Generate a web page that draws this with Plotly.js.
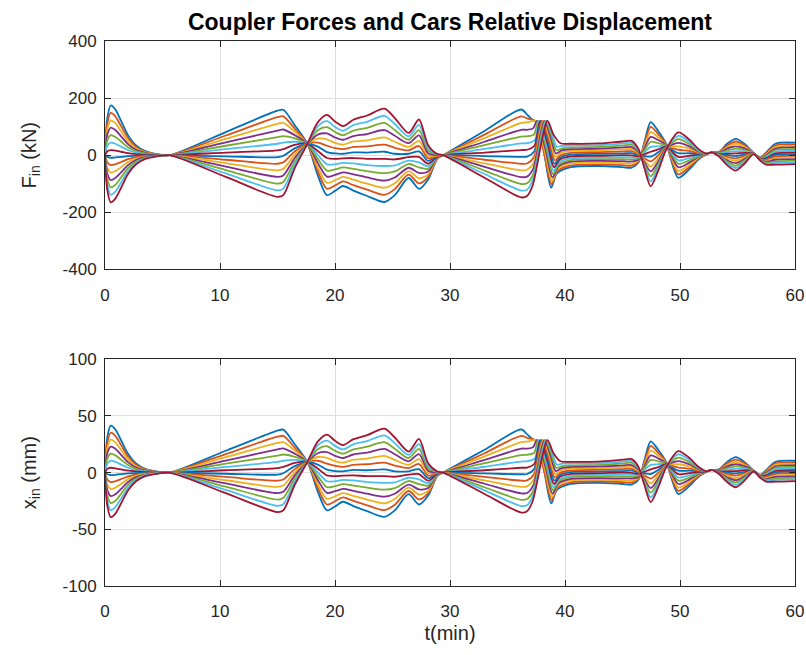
<!DOCTYPE html>
<html><head><meta charset="utf-8">
<script src="https://cdn.plot.ly/plotly-3.0.1.min.js"></script>
<style>html,body{margin:0;padding:0;background:#fff}#chart{width:806px;height:655px}</style>
</head><body><div id="chart"></div>
<script>
// time knots (min) shared by all couplers
const tStart = [0,0.2,0.5,0.9,1.4,2.0,2.7,3.5,4.5,5.6,10.5,15.0,15.5,16.5,17.6,18.5,19.3,20.0,20.7,21.6,22.8,24.3,25.2,26.4,27.3,28.1,28.9,29.4,33.0,36.2];
const tEnd = [40.5,43.0,45.0,45.8,46.4,46.9,47.45,48.1,48.8,49.85,50.8,51.6,52.3,52.75,53.4,54.1,54.85,55.6,56.4,57.0,57.5,58.3,60.0];
// per-coupler knots of the 37-40 min transient
const tMid = [
 [36.75,37.3,37.62,38.21,38.8,39.3],
 [36.75,37.39,38.17,38.84,39.34],
 [36.75,37.48,38.23,38.88,39.38],
 [36.7,37.22,37.57,38.3,38.92,39.42],
 [36.7,37.31,37.66,38.36,38.96,39.46],
 [36.7,37.37,37.75,38.43,39.0,39.5],
 [36.7,37.34,37.84,38.49,39.04,39.54],
 [36.7,37.32,37.93,38.56,39.08,39.58],
 [36.7,37.29,38.02,38.62,39.12,39.62],
 [36.7,37.27,38.11,38.69,39.16,39.66],
 [36.7,37.24,38.2,38.75,39.2,39.7],
 [36.7,37.22,38.29,38.82,39.24,39.74],
 [36.7,37.19,38.38,38.88,39.28,39.78],
 [36.7,37.17,38.47,39.0,39.6]
];
// coupler forces F_in (kN)
const Fin = [
 [0,130,174,160,120,70,34,14,4,0,81,156,159,105,40,-70,-140,-125,-108,-124,-143,-164,-140,-80,-118,-85,-12,0,85,160, 140,121,118,2,-114,-64, -42,-38,-42,-44,-25,45,116,85,40,-79,-50,-15,3,10,12,40,57,40,8,-8,10,40,44],
 [0,111,148,136,102,60,29,12,3,0,69,133,136,93,40,-56,-118,-106,-92,-105,-121,-139,-119,-68,-99,-76,-11,0,72,136, 128,120,9,-102,-56, -36,-32,-35,-37,-22,38,99,74,38,-67,-42,-12,3,10,11,34,48,35,8,-9,7,34,38],
 [0,91,122,112,84,49,24,10,3,0,57,110,113,82,40,-42,-97,-88,-76,-86,-100,-114,-98,-56,-81,-67,-10,0,60,113, 115,120,15,-90,-47, -29,-26,-28,-30,-18,31,81,63,37,-55,-34,-9,3,10,9,28,40,29,7,-10,3,29,32],
 [0,72,96,88,66,39,19,8,2,0,45,86,90,70,40,-27,-75,-69,-60,-67,-78,-89,-78,-44,-62,-57,-8,0,47,89, 89,94,120,21,-78,-40, -23,-20,-21,-22,-15,24,64,53,35,-42,-26,-6,3,10,8,23,31,24,7,-11,0,23,27],
 [0,52,70,64,48,28,14,6,2,0,33,63,67,59,40,-13,-54,-50,-43,-48,-56,-63,-57,-31,-43,-48,-7,0,35,65, 66,73,120,27,-66,-32, -17,-14,-14,-15,-11,17,47,42,34,-30,-18,-4,4,10,7,17,23,18,7,-12,-3,18,21],
 [0,33,44,40,30,18,9,4,1,0,21,40,44,47,40,1,-32,-32,-27,-29,-35,-38,-36,-19,-25,-39,-6,0,22,41, 42,53,120,33,-54,-24, -11,-8,-7,-8,-8,10,29,31,32,-18,-10,-1,4,10,5,11,14,13,7,-13,-7,12,15],
 [0,14,18,16,12,7,4,2,0,0,9,17,21,36,40,15,-10,-13,-11,-10,-13,-13,-15,-7,-6,-30,-5,0,9,18, 19,33,120,39,-42,-15, -4,-2,0,-1,-4,3,12,20,31,-6,-2,2,4,10,4,5,6,8,6,-14,-10,6,9],
 [0,-6,-9,-8,-6,-3,-2,-1,0,0,-4,-7,-2,24,40,30,11,6,5,10,9,12,5,5,13,-20,-3,0,-3,-6, -5,13,120,45,-30,-8, 2,5,6,7,-1,-3,-5,10,29,7,7,5,4,10,3,0,-3,2,6,-14,-13,1,4],
 [0,-25,-35,-32,-24,-14,-7,-3,-1,0,-16,-30,-25,13,40,44,33,25,21,29,31,37,26,17,32,-11,-2,0,-16,-30, -29,-7,120,51,-18,0, 8,11,13,14,3,-10,-22,-1,28,19,15,8,4,10,2,-6,-11,-3,6,-15,-16,-5,-2],
 [0,-44,-61,-56,-42,-24,-12,-5,-2,0,-28,-53,-48,1,40,58,55,43,37,48,52,62,47,29,50,-2,-1,0,-29,-53, -51,-27,120,57,-6,9, 15,17,20,21,6,-17,-40,-12,26,31,23,11,4,10,0,-12,-20,-8,5,-16,-20,-11,-8],
 [0,-64,-87,-80,-60,-35,-17,-7,-2,0,-40,-76,-71,-10,40,72,76,62,54,67,74,88,68,42,69,7,0,0,-41,-77, -75,-47,120,63,6,17, 21,23,27,28,10,-24,-57,-23,25,43,31,13,5,10,-1,-18,-28,-14,5,-17,-23,-16,-14],
 [0,-83,-113,-104,-78,-45,-22,-9,-3,0,-52,-100,-94,-22,40,87,98,81,70,86,96,113,88,54,88,17,2,0,-54,-101, -98,-68,120,69,18,24, 27,29,34,36,13,-31,-74,-33,23,56,39,16,5,10,-3,-23,-37,-19,5,-18,-26,-22,-19],
 [0,-103,-139,-128,-96,-56,-27,-11,-3,0,-64,-123,-117,-33,40,101,119,99,86,105,117,138,109,66,106,26,3,0,-66,-124, -121,-87,120,75,30,33, 34,35,41,43,17,-38,-92,-44,22,68,47,19,5,10,-4,-29,-45,-25,4,-19,-30,-27,-25],
 [0,-122,-165,-152,-114,-66,-32,-13,-4,0,-76,-146,-140,-45,40,115,141,118,102,124,139,163,130,78,125,35,4,0,-79,-148, -143,-108,120,72,42, 40,41,48,50,20,-45,-109,-55,20,80,55,22,5,10,-5,-35,-54,-30,4,-20,-33,-33,-31]
];
// cars relative displacement x_in (mm)
const Xin = [
 [0,31.0,41.4,38.1,28.6,16.7,8.1,3.3,1.0,0,19.3,37.1,37.9,25.0,9.5,-16.7,-33.3,-29.8,-25.7,-29.5,-34.0,-39.0,-33.3,-19.0,-28.1,-20.2,-2.9,0,20.2,38.1, 33.3,28.8,28.1,0.5,-27.1,-15.2, -10.0,-9.0,-10.0,-10.5,-6.0,10.7,27.6,20.2,9.5,-18.8,-11.9,-3.6,0.7,2.4,2.9,9.5,13.6,9.5,1.9,-1.9,2.4,9.5,10.5],
 [0,26.4,35.2,32.4,24.3,14.3,6.9,2.9,0.7,0,16.4,31.7,32.4,22.1,9.5,-13.3,-28.1,-25.2,-21.9,-25.0,-28.8,-33.1,-28.3,-16.2,-23.6,-18.1,-2.6,0,17.1,32.4, 30.5,28.6,2.1,-24.3,-13.3, -8.6,-7.6,-8.3,-8.8,-5.2,9.0,23.6,17.6,9.0,-16.0,-10.0,-2.9,0.7,2.4,2.6,8.1,11.4,8.3,1.9,-2.1,1.7,8.1,9.0],
 [0,21.7,29.0,26.7,20.0,11.7,5.7,2.4,0.7,0,13.6,26.2,26.9,19.5,9.5,-10.0,-23.1,-21.0,-18.1,-20.5,-23.8,-27.1,-23.3,-13.3,-19.3,-16.0,-2.4,0,14.3,26.9, 27.4,28.6,3.6,-21.4,-11.2, -6.9,-6.2,-6.7,-7.1,-4.3,7.4,19.3,15.0,8.8,-13.1,-8.1,-2.1,0.7,2.4,2.1,6.7,9.5,6.9,1.7,-2.4,0.7,6.9,7.6],
 [0,17.1,22.9,21.0,15.7,9.3,4.5,1.9,0.5,0,10.7,20.5,21.4,16.7,9.5,-6.4,-17.9,-16.4,-14.3,-16.0,-18.6,-21.2,-18.6,-10.5,-14.8,-13.6,-1.9,0,11.2,21.2, 21.2,22.4,28.6,5.0,-18.6,-9.5, -5.5,-4.8,-5.0,-5.2,-3.6,5.7,15.2,12.6,8.3,-10.0,-6.2,-1.4,0.7,2.4,1.9,5.5,7.4,5.7,1.7,-2.6,0,5.5,6.4],
 [0,12.4,16.7,15.2,11.4,6.7,3.3,1.4,0.5,0,7.9,15.0,16.0,14.0,9.5,-3.1,-12.9,-11.9,-10.2,-11.4,-13.3,-15.0,-13.6,-7.4,-10.2,-11.4,-1.7,0,8.3,15.5, 15.7,17.4,28.6,6.4,-15.7,-7.6, -4.0,-3.3,-3.3,-3.6,-2.6,4.0,11.2,10.0,8.1,-7.1,-4.3,-1.0,1.0,2.4,1.7,4.0,5.5,4.3,1.7,-2.9,-0.7,4.3,5.0],
 [0,7.9,10.5,9.5,7.1,4.3,2.1,1.0,0.2,0,5.0,9.5,10.5,11.2,9.5,0.2,-7.6,-7.6,-6.4,-6.9,-8.3,-9.0,-8.6,-4.5,-6.0,-9.3,-1.4,0,5.2,9.8, 10.0,12.6,28.6,7.9,-12.9,-5.7, -2.6,-1.9,-1.7,-1.9,-1.9,2.4,6.9,7.4,7.6,-4.3,-2.4,-0.2,1.0,2.4,1.2,2.6,3.3,3.1,1.7,-3.1,-1.7,2.9,3.6],
 [0,3.3,4.3,3.8,2.9,1.7,1.0,0.5,0,0,2.1,4.0,5.0,8.6,9.5,3.6,-2.4,-3.1,-2.6,-2.4,-3.1,-3.1,-3.6,-1.7,-1.4,-7.1,-1.2,0,2.1,4.3, 4.5,7.9,28.6,9.3,-10.0,-3.6, -1.0,-0.5,0,-0.2,-1.0,0.7,2.9,4.8,7.4,-1.4,-0.5,0.5,1.0,2.4,1.0,1.2,1.4,1.9,1.4,-3.3,-2.4,1.4,2.1],
 [0,-1.4,-2.1,-1.9,-1.4,-0.7,-0.5,-0.2,0,0,-1.0,-1.7,-0.5,5.7,9.5,7.1,2.6,1.4,1.2,2.4,2.1,2.9,1.2,1.2,3.1,-4.8,-0.7,0,-0.7,-1.4, -1.2,3.1,28.6,10.7,-7.1,-1.9, 0.5,1.2,1.4,1.7,-0.2,-0.7,-1.2,2.4,6.9,1.7,1.7,1.2,1.0,2.4,0.7,0,-0.7,0.5,1.4,-3.3,-3.1,0.2,1.0],
 [0,-6.0,-8.3,-7.6,-5.7,-3.3,-1.7,-0.7,-0.2,0,-3.8,-7.1,-6.0,3.1,9.5,10.5,7.9,6.0,5.0,6.9,7.4,8.8,6.2,4.0,7.6,-2.6,-0.5,0,-3.8,-7.1, -6.9,-1.7,28.6,12.1,-4.3,0, 1.9,2.6,3.1,3.3,0.7,-2.4,-5.2,-0.2,6.7,4.5,3.6,1.9,1.0,2.4,0.5,-1.4,-2.6,-0.7,1.4,-3.6,-3.8,-1.2,-0.5],
 [0,-10.5,-14.5,-13.3,-10.0,-5.7,-2.9,-1.2,-0.5,0,-6.7,-12.6,-11.4,0.2,9.5,13.8,13.1,10.2,8.8,11.4,12.4,14.8,11.2,6.9,11.9,-0.5,-0.2,0,-6.9,-12.6, -12.1,-6.4,28.6,13.6,-1.4,2.1, 3.6,4.0,4.8,5.0,1.4,-4.0,-9.5,-2.9,6.2,7.4,5.5,2.6,1.0,2.4,0,-2.9,-4.8,-1.9,1.2,-3.8,-4.8,-2.6,-1.9],
 [0,-15.2,-20.7,-19.0,-14.3,-8.3,-4.0,-1.7,-0.5,0,-9.5,-18.1,-16.9,-2.4,9.5,17.1,18.1,14.8,12.9,16.0,17.6,21.0,16.2,10.0,16.4,1.7,0,0,-9.8,-18.3, -17.9,-11.2,28.6,15.0,1.4,4.0, 5.0,5.5,6.4,6.7,2.4,-5.7,-13.6,-5.5,6.0,10.2,7.4,3.1,1.2,2.4,-0.2,-4.3,-6.7,-3.3,1.2,-4.0,-5.5,-3.8,-3.3],
 [0,-19.8,-26.9,-24.8,-18.6,-10.7,-5.2,-2.1,-0.7,0,-12.4,-23.8,-22.4,-5.2,9.5,20.7,23.3,19.3,16.7,20.5,22.9,26.9,21.0,12.9,21.0,4.0,0.5,0,-12.9,-24.0, -23.3,-16.2,28.6,16.4,4.3,5.7, 6.4,6.9,8.1,8.6,3.1,-7.4,-17.6,-7.9,5.5,13.3,9.3,3.8,1.2,2.4,-0.7,-5.5,-8.8,-4.5,1.2,-4.3,-6.2,-5.2,-4.5],
 [0,-24.5,-33.1,-30.5,-22.9,-13.3,-6.4,-2.6,-0.7,0,-15.2,-29.3,-27.9,-7.9,9.5,24.0,28.3,23.6,20.5,25.0,27.9,32.9,26.0,15.7,25.2,6.2,0.7,0,-15.7,-29.5, -28.8,-20.7,28.6,17.9,7.1,7.9, 8.1,8.3,9.8,10.2,4.0,-9.0,-21.9,-10.5,5.2,16.2,11.2,4.5,1.2,2.4,-1.0,-6.9,-10.7,-6.0,1.0,-4.5,-7.1,-6.4,-6.0],
 [0,-29.0,-39.3,-36.2,-27.1,-15.7,-7.6,-3.1,-1.0,0,-18.1,-34.8,-33.3,-10.7,9.5,27.4,33.6,28.1,24.3,29.5,33.1,38.8,31.0,18.6,29.8,8.3,1.0,0,-18.8,-35.2, -34.0,-25.7,28.6,17.1,10.0, 9.5,9.8,11.4,11.9,4.8,-10.7,-26.0,-13.1,4.8,19.0,13.1,5.2,1.2,2.4,-1.2,-8.3,-12.9,-7.1,1.0,-4.8,-7.9,-7.9,-7.4]
];
const colors = ['#0072BD','#D95319','#EDB120','#7E2F8E','#77AC30','#4DBEEE','#A2142F'];
const xTicks = [0,10,20,30,40,50,60];
const xTickText = ['0','10','20','30','40','50','60'];
const fTicks = [-400,-200,0,200,400];
const fTickText = ['-400','-200','0','200','400'];
const dTicks = [-100,-50,0,50,100];
const dTickText = ['-100','-50','0','50','100'];

const traces = [];
for (let k = 0; k < Fin.length; k++) {
  const t = tStart.concat(tMid[k], tEnd);
  const ln = {color: colors[k % 7], width: 1.8, shape: 'spline', smoothing: 0.8};
  traces.push({x: t, y: Fin[k], xaxis: 'x', yaxis: 'y', mode: 'lines', line: ln, hoverinfo: 'skip'});
}
for (let k = 0; k < Xin.length; k++) {
  const t = tStart.concat(tMid[k], tEnd);
  const ln = {color: colors[k % 7], width: 1.8, shape: 'spline', smoothing: 0.8};
  traces.push({x: t, y: Xin[k], xaxis: 'x2', yaxis: 'y2', mode: 'lines', line: ln, hoverinfo: 'skip'});
}

const FONT = 'Liberation Sans, Arial, Helvetica, sans-serif';
const axBase = {
  showline: true, linecolor: '#262626', linewidth: 1, mirror: 'ticks',
  ticks: 'inside', ticklen: 6, tickwidth: 1, tickcolor: '#262626',
  showgrid: true, gridcolor: '#dfdfdf', gridwidth: 1, zeroline: false,
  tickfont: {family: FONT, size: 17, color: '#262626'}
};
const layout = {
  width: 806, height: 655,
  margin: {l: 105, r: 11, t: 41, b: 69},
  paper_bgcolor: '#ffffff', plot_bgcolor: '#ffffff',
  showlegend: false,
  title: {text: '<b>Coupler Forces and Cars Relative Displacement</b>',
          font: {family: FONT, size: 23, color: '#000000'},
          x: 0.5, xref: 'paper', xanchor: 'center', y: 1 - 22/655, yref: 'container', yanchor: 'middle'},
  xaxis: Object.assign({}, axBase, {domain: [0, 1], anchor: 'y', range: [0, 60], tickvals: xTicks, ticktext: xTickText, ticklabelstandoff: 10}),
  yaxis: Object.assign({}, axBase, {domain: [0.581, 1], anchor: 'x', range: [-400, 400], tickvals: fTicks, ticktext: fTickText, ticklabelstandoff: 4,
          title: {text: 'F<sub>in</sub> (kN)', font: {family: FONT, size: 20, color: '#262626'}, standoff: 20}}),
  xaxis2: Object.assign({}, axBase, {domain: [0, 1], anchor: 'y2', range: [0, 60], tickvals: xTicks, ticktext: xTickText, ticklabelstandoff: 10,
          title: {text: 't(min)', font: {family: FONT, size: 20, color: '#262626'}, standoff: 5}}),
  yaxis2: Object.assign({}, axBase, {domain: [0, 0.416], anchor: 'x2', range: [-100, 100], tickvals: dTicks, ticktext: dTickText, ticklabelstandoff: 4,
          title: {text: 'x<sub>in</sub> (mm)', font: {family: FONT, size: 20, color: '#262626'}, standoff: 20}})
};
Plotly.newPlot('chart', traces, layout, {staticPlot: true, displayModeBar: false});
</script>
</body></html>
